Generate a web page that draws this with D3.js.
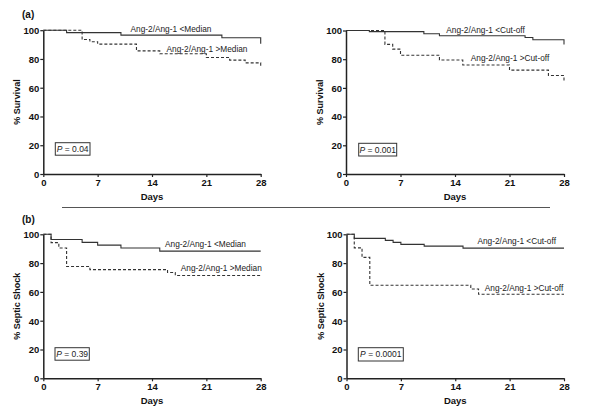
<!DOCTYPE html>
<html>
<head>
<meta charset="utf-8">
<script src="https://cdn.jsdelivr.net/npm/d3@7"></script>
<style>
  body { margin: 0; background: #fff; }
  svg { display: block; font-family: "Liberation Sans", Arial, sans-serif; }
</style>
</head>
<body>
<svg id="chart" width="600" height="420"></svg>
<script>
// ---- Data (day, percent) ----
const xTicks = [0, 7, 14, 21, 28];
const yTicks = [0, 20, 40, 60, 80, 100];

const survivalMedianLow  = [[0,100],[3,98.3],[10,96.6],[23,94.8],[28,90.6]];
const survivalMedianHigh = [[0,100],[5,93.5],[6,92],[7,90.3],[12,85.6],[15,83.6],[21,81],[24,79.2],[26,77.3],[28,75]];
const survivalCutLow     = [[0,100],[3,99.2],[10,97.7],[12,96.3],[23,95.1],[24,93.6],[28,90.3]];
const survivalCutHigh    = [[0,100],[5,90.3],[6,87],[7,82.8],[12,79.4],[15,76],[21,72.4],[26,68.6],[28,65]];

const shockMedianLow  = [[0,100],[1,96.4],[5,94.4],[7,92.5],[10,90.5],[15,88.3],[28,88.3]];
const shockMedianHigh = [[0,100],[1,94.2],[2,90.5],[3,77.6],[6,75.5],[16,73.5],[17,71.4],[28,71.4]];
const shockCutLow     = [[0,100],[1,97.2],[5,95.8],[6,94.4],[7,93],[10,91.8],[15,90.4],[28,90.4]];
const shockCutHigh    = [[0,100],[1,90.6],[2,84],[3,64.6],[16,62],[17,58.4],[28,58.4]];

const labelsLow  = ["Ang-2/Ang-1 <Median", "Ang-2/Ang-1 <Cut-off"];
const labelsHigh = ["Ang-2/Ang-1 >Median", "Ang-2/Ang-1 >Cut-off"];
const pValues = ["0.04", "0.001", "0.39", "0.0001"];
const yTitles = ["% Survival", "% Septic Shock"];
const panelTags = ["(a)", "(b)"];

// ---- Layout ----
const panels = [
  {x0:43.3, x1:260.7, yT:30.2, yB:174, low:survivalMedianLow, high:survivalMedianHigh, lowLab:labelsLow[0], highLab:labelsHigh[0],
   lowPos:[171,29], highPos:[207,48.8], p:pValues[0], box:[55.3,142.7,34.7,12.5], yTitle:yTitles[0]},
  {x0:346, x1:564, yT:30.5, yB:174, low:survivalCutLow, high:survivalCutHigh, lowLab:labelsLow[1], highLab:labelsHigh[1],
   lowPos:[485.5,29.8], highPos:[510,58], p:pValues[1], box:[358.7,143.3,38,12.7], yTitle:yTitles[0]},
  {x0:43.3, x1:260.7, yT:234.3, yB:378.3, low:shockMedianLow, high:shockMedianHigh, lowLab:labelsLow[0], highLab:labelsHigh[0],
   lowPos:[205.5,244], highPos:[221.3,268], p:pValues[2], box:[55,347.7,34.3,12.5], yTitle:yTitles[1]},
  {x0:346.5, x1:564, yT:234.3, yB:378.3, low:shockCutLow, high:shockCutHigh, lowLab:labelsLow[1], highLab:labelsHigh[1],
   lowPos:[516.7,240.8], highPos:[524,288], p:pValues[3], box:[358.3,347.7,45,13.3], yTitle:yTitles[1]}
];

const svg = d3.select("#chart");
const ink = "#222";

panels.forEach(p => {
  const x = d3.scaleLinear().domain([0, 28]).range([p.x0, p.x1]);
  const y = d3.scaleLinear().domain([0, 100]).range([p.yB, p.yT]);
  const g = svg.append("g");

  const line = d3.line().x(d => x(d[0])).y(d => y(d[1])).curve(d3.curveStepAfter);
  g.append("path").datum(p.low).attr("d", line)
    .attr("fill", "none").attr("stroke", "#333").attr("stroke-width", 1.1);
  g.append("path").datum(p.high).attr("d", line)
    .attr("fill", "none").attr("stroke", "#333").attr("stroke-width", 1.1)
    .attr("stroke-dasharray", "3,2");

  // axes
  const xa = g.append("g").attr("transform", `translate(0,${p.yB})`)
    .call(d3.axisBottom(x).tickValues(xTicks).tickSize(3).tickSizeOuter(0).tickPadding(2));
  const ya = g.append("g").attr("transform", `translate(${p.x0},0)`)
    .call(d3.axisLeft(y).tickValues(yTicks).tickSize(3).tickSizeOuter(0).tickPadding(1));
  [xa, ya].forEach(a => {
    a.select(".domain").attr("stroke", ink).attr("stroke-width", 1.5);
    a.selectAll(".tick line").attr("stroke", ink).attr("stroke-width", 1.2);
    a.selectAll("text").attr("font-size", 9.5).attr("font-weight", "bold")
      .attr("fill", "#111").attr("font-family", "Liberation Sans, Arial, sans-serif");
  });
  ya.selectAll("text").attr("dy", "0.35em");

  // axis titles
  g.append("text").attr("x", (p.x0 + p.x1) / 2).attr("y", p.yB + 26)
    .attr("text-anchor", "middle").attr("font-size", 9.5).attr("font-weight", "bold").attr("fill", "#111")
    .text("Days");
  g.append("text")
    .attr("transform", `translate(${p.x0 - 23},${(p.yT + p.yB) / 2}) rotate(-90)`)
    .attr("text-anchor", "middle").attr("font-size", 9).attr("font-weight", "bold").attr("fill", "#111")
    .text(p.yTitle);

  // curve labels
  g.append("text").attr("x", p.lowPos[0]).attr("y", p.lowPos[1]).attr("dy", "0.35em")
    .attr("text-anchor", "middle").attr("font-size", 8.3).attr("fill", "#222").text(p.lowLab);
  g.append("text").attr("x", p.highPos[0]).attr("y", p.highPos[1]).attr("dy", "0.35em")
    .attr("text-anchor", "middle").attr("font-size", 8.3).attr("fill", "#222").text(p.highLab);

  // p-value box
  g.append("rect").attr("x", p.box[0]).attr("y", p.box[1]).attr("width", p.box[2]).attr("height", p.box[3])
    .attr("fill", "#fff").attr("stroke", "#333").attr("stroke-width", 1);
  const t = g.append("text").attr("x", p.box[0] + p.box[2] / 2).attr("y", p.box[1] + p.box[3] / 2)
    .attr("dy", "0.35em").attr("text-anchor", "middle").attr("font-size", 8.5).attr("fill", "#222");
  t.append("tspan").attr("font-style", "italic").text("P");
  t.append("tspan").text(" = " + p.p);
});

// panel tags
svg.append("text").attr("x", 22).attr("y", 14).attr("dy", "0.35em")
  .attr("font-size", 10).attr("font-weight", "bold").attr("fill", "#111").text(panelTags[0]);
svg.append("text").attr("x", 22).attr("y", 219).attr("dy", "0.35em")
  .attr("font-size", 10).attr("font-weight", "bold").attr("fill", "#111").text(panelTags[1]);

// separator
svg.append("line").attr("x1", 62).attr("x2", 550).attr("y1", 207.5).attr("y2", 207.5)
  .attr("stroke", "#555").attr("stroke-width", 1);
</script>
</body>
</html>
